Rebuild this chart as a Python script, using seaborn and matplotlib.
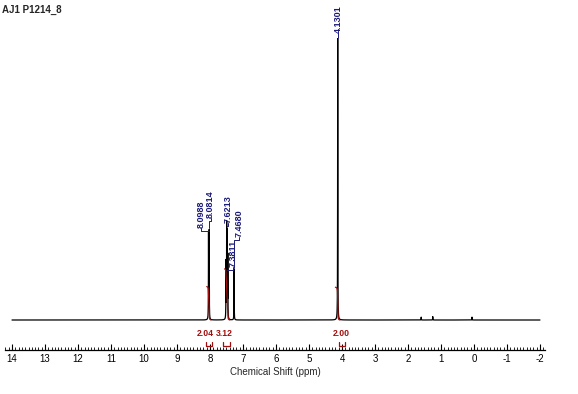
import numpy as np
import pandas as pd
import matplotlib
matplotlib.use("Agg")
import matplotlib.pyplot as plt
import seaborn as sns

# peaks (ppm, relative height)
peak_shifts = [8.045, 8.025, 7.515, 7.495, 7.478, 7.46, 7.27, 4.13, 1.60, 1.25, 0.06]
peak_heights = [0.30, 0.31, 0.20, 0.33, 0.30, 0.22, 0.18, 1.00, 0.010, 0.012, 0.010]

# peak labels
label_texts = ["8.0988", "8.0814", "7.6213", "7.3811", "7.4680", "4.1301"]
label_peaks = [8.045, 8.025, 7.495, 7.478, 7.27, 4.13]

# integrals
int_values = ["2.04", "3.12", "2.00"]
int_numbers = [2.04, 3.12, 2.00]
int_ranges = [(8.10, 7.97), (7.56, 7.40), (4.20, 4.06)]

title = "AJ1 P1214_8"
xlabel = "Chemical Shift (ppm)"

sns.set_style("white")
plt.rcParams['font.family'] = ['Liberation Sans', 'DejaVu Sans']

W, H = 578, 394
fig = plt.figure(figsize=(W / 100, H / 100), dpi=100)
ax = fig.add_axes([5 / W, (H - 350) / H, 540 / W, 345 / H])

def ppm(px):
    return 4 + (342 - px) / 33

def yi(py):
    return (320 - py) / 285

ax.set_xlim(ppm(5), ppm(545))
ax.set_ylim(yi(350), yi(5))

# spectrum
x = np.arange(14.0, -2.0, -0.0008)
y = np.zeros_like(x)
w = 0.0035
for s, h in zip(peak_shifts, peak_heights):
    y += h * w ** 2 / ((x - s) ** 2 + w ** 2)
df = pd.DataFrame({"ppm": x, "I": y})
sns.lineplot(data=df, x="ppm", y="I", ax=ax, color="black", lw=0.9, estimator=None, sort=False)

# integral curves
red = "#a30d0d"
scale = 0.115 / 2.0
int_lab_px = [205, 224, 341]
int_br_px = [(206, 212), (223, 230), (339, 345)]
for (a, b), val, txt, lx, (b0, b1) in zip(int_ranges, int_numbers, int_values, int_lab_px, int_br_px):
    m = (x <= a) & (x >= b)
    xs = x[m]
    c = np.cumsum(y[m][::-1])[::-1]
    c = c / c.max() * val * scale
    ax.plot(xs, c, color=red, lw=0.9)
    ax.text(ppm(lx), yi(333), txt, color=red, fontsize=6.2, fontweight="bold", ha="center", va="center")
    # bracket
    yb = yi(346)
    ax.plot([ppm(b0), ppm(b0), ppm(b1), ppm(b1)], [yi(342), yb, yb, yi(342)],
            color=red, lw=0.9, clip_on=False)

# peak labels
navy = "#1b1b7a"
lab_px = [201, 210.5, 228, 233, 239, 338]
lab_bot = [227, 217, 222, 266, 236, 32]
for t, p, lx, lb in zip(label_texts, label_peaks, lab_px, lab_bot):
    tx = ppm(lx)
    ax.text(tx, yi(lb + 1), t, rotation=90, color=navy, fontsize=6.5, fontweight="bold",
            ha="center", va="bottom")
    top_peak = y[np.argmin(np.abs(x - p))]
    yk = yi(lb + 4)
    yend = min(yk, top_peak + 0.004)
    ax.plot([tx, tx, p, p], [yi(lb + 1), yk, yk, yend], color=navy, lw=0.7)

# axis
for s in ["left", "right", "top"]:
    ax.spines[s].set_visible(False)
ax.spines["bottom"].set_linewidth(0.9)
ax.spines["bottom"].set_color("black")
ax.set_yticks([])
ax.set_xticks(np.arange(14, -3, -1))
ax.set_xticks(np.arange(14.2, -2.2, -0.1), minor=True)
ax.set_xticklabels([str(v) for v in range(14, -3, -1)])
ax.tick_params(axis="x", which="both", bottom=True, colors="black")
ax.tick_params(axis="x", which="major", direction="in", length=4, width=0.8, labelsize=7, pad=3)
ax.tick_params(axis="x", which="minor", direction="in", length=2, width=0.6)
ax.set_xlabel(xlabel, fontsize=7, labelpad=2)
ax.set_ylabel("")

fig.text(2 / W, 1 - 10 / H, title, fontsize=7, fontweight="bold", va="center", ha="left")

fig.savefig("out.png", dpi=100)
